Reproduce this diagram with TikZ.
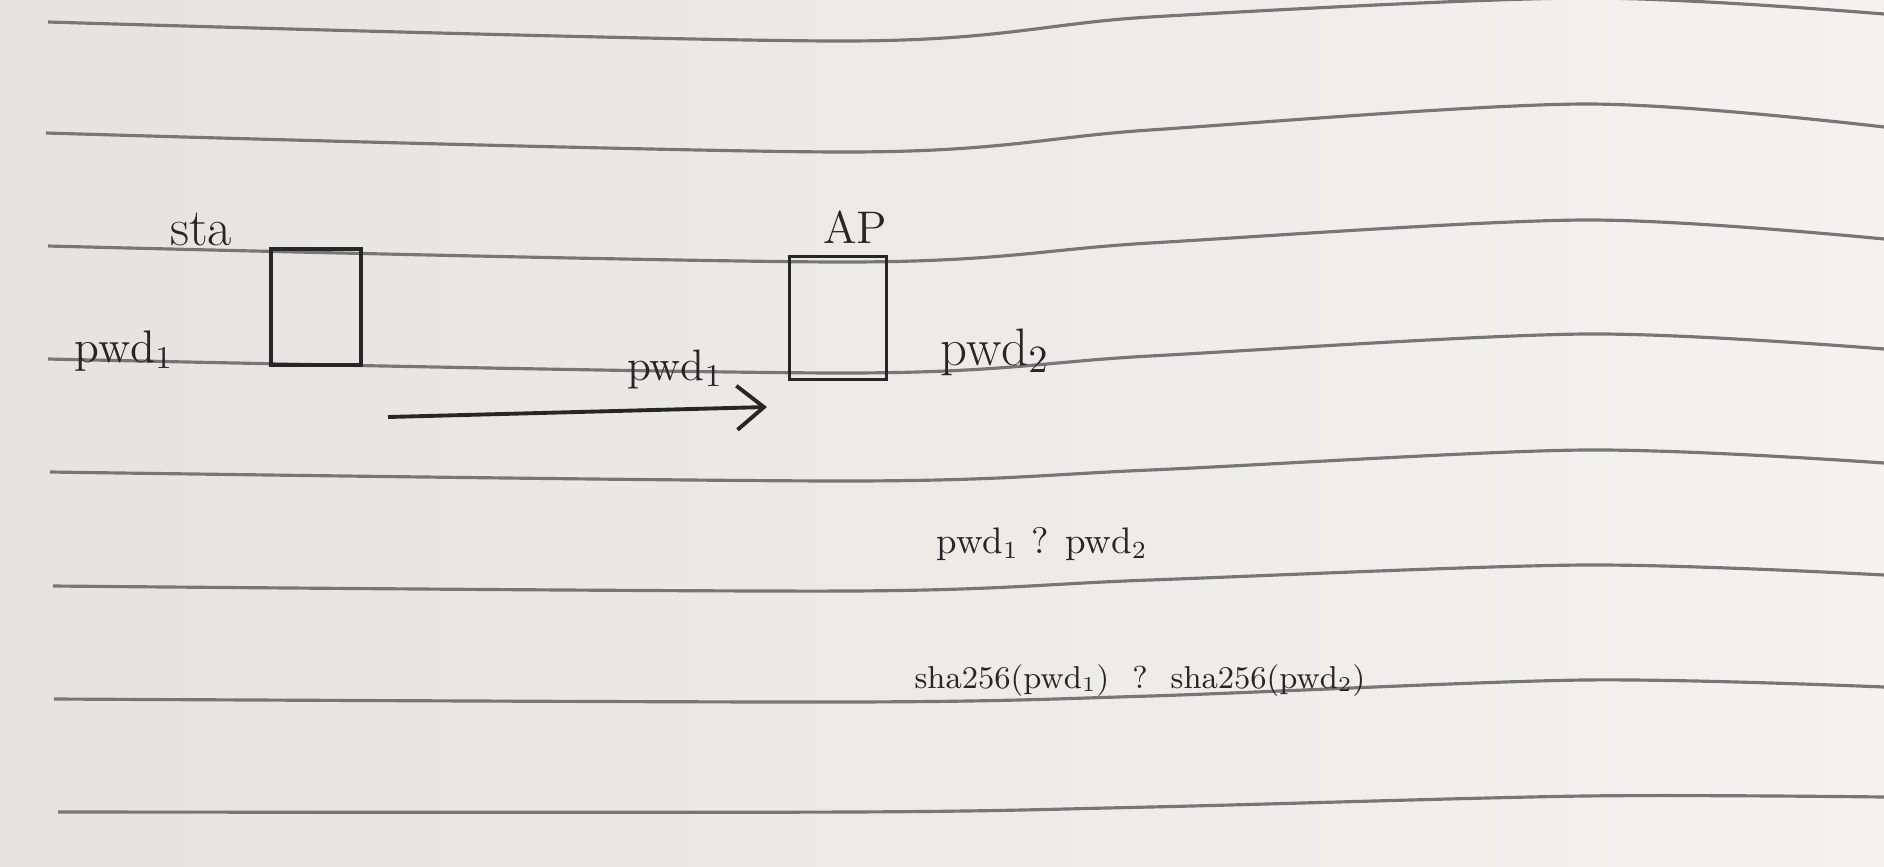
\documentclass[tikz,border=0pt]{standalone}
\usepackage{tikz}
\usetikzlibrary{arrows.meta}

\definecolor{paperleft}{RGB}{229,227,223}
\definecolor{paperright}{RGB}{243,242,240}
\definecolor{rule}{RGB}{118,118,118}
\definecolor{ink}{RGB}{38,38,38}

\tikzset{
  devbox/.style={draw=ink, line width=1.1pt, inner sep=0pt},
  note/.style={text=ink, inner sep=0pt, anchor=base},
  ruling/.style={draw=rule, line width=0.9pt},
}

\begin{document}
\begin{tikzpicture}[x=0.01cm, y=-0.01cm]
        \useasboundingbox (0,0) rectangle (1884,866);
        \shade[left color=paperleft, right color=paperright] (0,0) rectangle (1884,866);

        % notebook rulings
        \foreach \xa/\ya/\yb/\yc/\yd/\ye in {48/22/41/17/-2/14, 46/133/152/130/104/127, 48/246/262/243/220/239,
            48/359/373/356/334/349, 50/472/481/470/450/463, 53/586/591/580/565/575,
            54/699/702/696/680/687, 58/812/812/807/796/797}
          \draw[ruling] plot[smooth, tension=0.5] coordinates {(\xa,\ya) (850,\yb) (1150,\yc) (1584,\yd) (1884,\ye)};

        % station and access point
        \node[devbox, minimum width=0.9cm, minimum height=1.16cm] (sta) at (316, 307) {};
        \node[devbox, minimum width=0.97cm, minimum height=1.23cm] (ap) at (838, 318) {};

        \node[note, font=\fontsize{15}{18}\selectfont] (staname) at (201, 245) {sta};
        \node[note, font=\fontsize{13}{16}\selectfont] (apname) at (855, 243) {AP};
        \node[note, font=\fontsize{13}{16}\selectfont] (stapwd) at (124, 362) {pwd$_1$};
        \node[note, font=\fontsize{15}{18}\selectfont] (appwd) at (995, 365) {pwd$_2$};

        % sent password
        \coordinate (txstart) at (388, 417);
        \coordinate (txend) at (767, 407);
        \draw[ink, line width=1.1pt, -{Straight Barb[length=2.7mm, width=4.4mm]}] (txstart) -- (txend);
        \node[note, font=\fontsize{12.5}{15}\selectfont] (txpwd) at (675, 380) {pwd$_1$};

        % comparison
        \node[note, font=\fontsize{10.5}{13}\selectfont] (cmpplain) at (1042, 553) {pwd$_1$ ? pwd$_2$};
        \node[note, font=\fontsize{9}{11}\selectfont] (cmphash) at (1140, 688)
            {sha256(pwd$_1$)\hspace{0.23cm}?\hspace{0.23cm}sha256(pwd$_2$)};

    \end{tikzpicture}
\end{document}
